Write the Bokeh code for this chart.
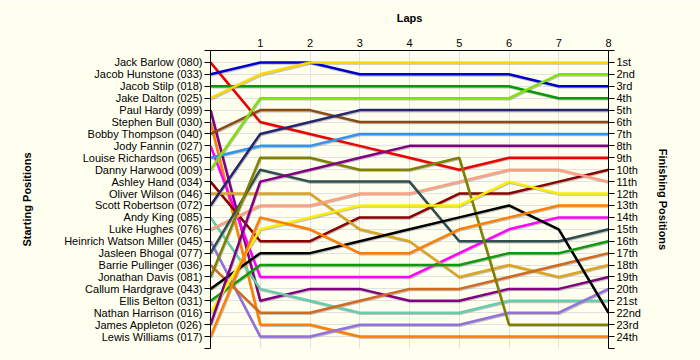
from bokeh.plotting import figure
from bokeh.models import Range1d, LinearAxis, FixedTicker
from bokeh.embed import file_html
from bokeh.resources import INLINE
import numpy as np

# ---------------- data ----------------
laps = [0, 1, 2, 3, 4, 5, 6, 7, 8]
lap_labels = ["", "1", "2", "3", "4", "5", "6", "7", "8"]

drivers = [
    "Jack Barlow (080)", "Jacob Hunstone (033)", "Jacob Stilp (018)", "Jake Dalton (025)",
    "Paul Hardy (099)", "Stephen Bull (030)", "Bobby Thompson (040)", "Jody Fannin (027)",
    "Louise Richardson (065)", "Danny Harwood (009)", "Ashley Hand (034)", "Oliver Wilson (046)",
    "Scott Robertson (072)", "Andy King (085)", "Luke Hughes (076)", "Heinrich Watson Miller (045)",
    "Jasleen Bhogal (077)", "Barrie Pullinger (036)", "Jonathan Davis (081)", "Callum Hardgrave (043)",
    "Ellis Belton (031)", "Nathan Harrison (016)", "James Appleton (026)", "Lewis Williams (017)",
]

finish_labels = [
    "1st", "2nd", "3rd", "4th", "5th", "6th", "7th", "8th", "9th", "10th", "11th", "12th",
    "13th", "14th", "15th", "16th", "17th", "18th", "19th", "20th", "21st", "22nd", "23rd", "24th",
]

# position of each driver after each lap (lap 0 = grid)
jack_barlow       = [1, 6, 7, 8, 9, 10, 9, 9, 9]
jacob_hunstone    = [2, 1, 1, 2, 2, 2, 2, 3, 3]
jacob_stilp       = [3, 3, 3, 3, 3, 3, 3, 4, 4]
jake_dalton       = [4, 2, 1, 1, 1, 1, 1, 1, 1]
paul_hardy        = [5, 21, 20, 20, 21, 21, 20, 20, 19]
stephen_bull      = [6, 23, 23, 24, 24, 24, 24, 24, 24]
bobby_thompson    = [7, 5, 5, 6, 6, 6, 6, 6, 6]
jody_fannin       = [8, 19, 19, 19, 19, 17, 15, 14, 14]
louise_richardson = [9, 8, 8, 7, 7, 7, 7, 7, 7]
danny_harwood     = [10, 4, 4, 4, 4, 4, 4, 2, 2]
ashley_hand       = [11, 16, 16, 14, 14, 12, 12, 11, 10]
oliver_wilson     = [12, 12, 12, 15, 16, 19, 18, 19, 18]
scott_robertson   = [13, 7, 6, 5, 5, 5, 5, 5, 5]
andy_king         = [14, 20, 21, 22, 22, 22, 21, 21, 21]
luke_hughes       = [15, 13, 13, 12, 12, 11, 10, 10, 11]
heinrich_miller   = [16, 24, 24, 23, 23, 23, 22, 22, 20]
jasleen_bhogal    = [17, 10, 11, 11, 11, 16, 16, 16, 15]
barrie_pullinger  = [18, 22, 22, 21, 20, 20, 19, 18, 17]
jonathan_davis    = [19, 9, 9, 10, 10, 9, 23, 23, 23]
callum_hardgrave  = [20, 17, 17, 16, 15, 14, 13, 15, 22]
ellis_belton      = [21, 18, 18, 18, 18, 18, 17, 17, 16]
nathan_harrison   = [22, 15, 14, 13, 13, 13, 11, 12, 12]
james_appleton    = [23, 11, 10, 9, 8, 8, 8, 8, 8]
lewis_williams    = [24, 14, 15, 17, 17, 15, 14, 13, 13]

series = [
    jack_barlow, jacob_hunstone, jacob_stilp, jake_dalton, paul_hardy, stephen_bull,
    bobby_thompson, jody_fannin, louise_richardson, danny_harwood, ashley_hand, oliver_wilson,
    scott_robertson, andy_king, luke_hughes, heinrich_miller, jasleen_bhogal, barrie_pullinger,
    jonathan_davis, callum_hardgrave, ellis_belton, nathan_harrison, james_appleton, lewis_williams,
]

# ---------------- style ----------------
palette = [
    "#ee0000", "#0000cc", "#0a960a", "#ffd700", "#800080", "#ff7f00",
    "#8b4a14", "#ff00ff", "#2f95f0", "#80e010", "#8b0000", "#daa520",
    "#262670", "#66cdaa", "#ffa080", "#9370db", "#2f4f4f", "#d2691e",
    "#7f7f00", "#000000", "#0a9a0a", "#ffee00", "#800080", "#ff7f00",
]
BG = "#fffff0"
FONT = "Liberation Sans"

n = len(drivers)
all_ticks = list(range(0, n + 2))

p = figure(
    width=700, height=360,
    x_range=Range1d(0, 8), y_range=Range1d(n + 1, 0),
    x_axis_location="above", y_axis_location="left",
    output_backend="svg", toolbar_location=None,
    min_border_left=210, min_border_right=92, min_border_top=50, min_border_bottom=12,
    background_fill_color=BG, border_fill_color=BG,
)
p.outline_line_color = None

# grid
p.xgrid.ticker = FixedTicker(ticks=laps)
p.ygrid.ticker = FixedTicker(ticks=all_ticks)
p.xgrid.grid_line_color = "#e2e2e2"
p.ygrid.grid_line_color = "#e2e2e2"

# top axis (laps)
xa = p.xaxis[0]
xa.ticker = FixedTicker(ticks=laps)
xa.major_label_overrides = {l: t for l, t in zip(laps, lap_labels)}
xa.axis_label = "Laps"
xa.axis_label_text_font = FONT
xa.axis_label_text_font_size = "11px"
xa.axis_label_text_font_style = "bold"
xa.axis_label_text_color = "#000000"
xa.axis_label_standoff = 12
xa.major_label_text_font = FONT
xa.major_label_text_font_size = "11px"
xa.major_label_text_color = "#000000"
xa.major_label_standoff = 4
xa.major_tick_in = 0
xa.major_tick_out = 0
xa.minor_tick_line_color = None
xa.axis_line_color = "#000000"

# left axis (starting positions)
ya = p.yaxis[0]
ya.ticker = FixedTicker(ticks=all_ticks)
ov = {0: "", n + 1: ""}
ov.update({i + 1: d for i, d in enumerate(drivers)})
ya.major_label_overrides = ov
ya.axis_label = "Starting Positions"
ya.axis_label_text_font = FONT
ya.axis_label_text_font_size = "11px"
ya.axis_label_text_font_style = "bold"
ya.axis_label_text_color = "#000000"
ya.axis_label_standoff = 28
ya.major_label_text_font = FONT
ya.major_label_text_font_size = "11px"
ya.major_label_text_color = "#000000"
ya.major_label_standoff = 2
ya.major_tick_in = 0
ya.major_tick_out = 6
ya.minor_tick_line_color = None
ya.axis_line_color = "#000000"

# right axis (finishing positions)
ra = LinearAxis(ticker=FixedTicker(ticks=all_ticks))
ov2 = {0: "", n + 1: ""}
ov2.update({i + 1: t for i, t in enumerate(finish_labels)})
ra.major_label_overrides = ov2
ra.axis_label = "Finishing Positions"
ra.axis_label_text_font = FONT
ra.axis_label_text_font_size = "11px"
ra.axis_label_text_font_style = "bold"
ra.axis_label_text_color = "#000000"
ra.axis_label_standoff = 13
ra.major_label_text_font = FONT
ra.major_label_text_font_size = "11px"
ra.major_label_text_color = "#000000"
ra.major_label_standoff = 2
ra.major_tick_in = 0
ra.major_tick_out = 6
ra.minor_tick_line_color = None
ra.axis_line_color = "#000000"
p.add_layout(ra, "right")

# lines: shadows first, then coloured series
x = np.array(laps, dtype=float)
for s in series:
    p.line(x + 0.015, np.array(s, dtype=float) + 0.09, line_color="#909090",
           line_alpha=0.55, line_width=2.5)
for s, c in zip(series, palette):
    p.line(x, s, line_color=c, line_width=2.5)

open("out.html", "w").write(file_html(p, INLINE))
